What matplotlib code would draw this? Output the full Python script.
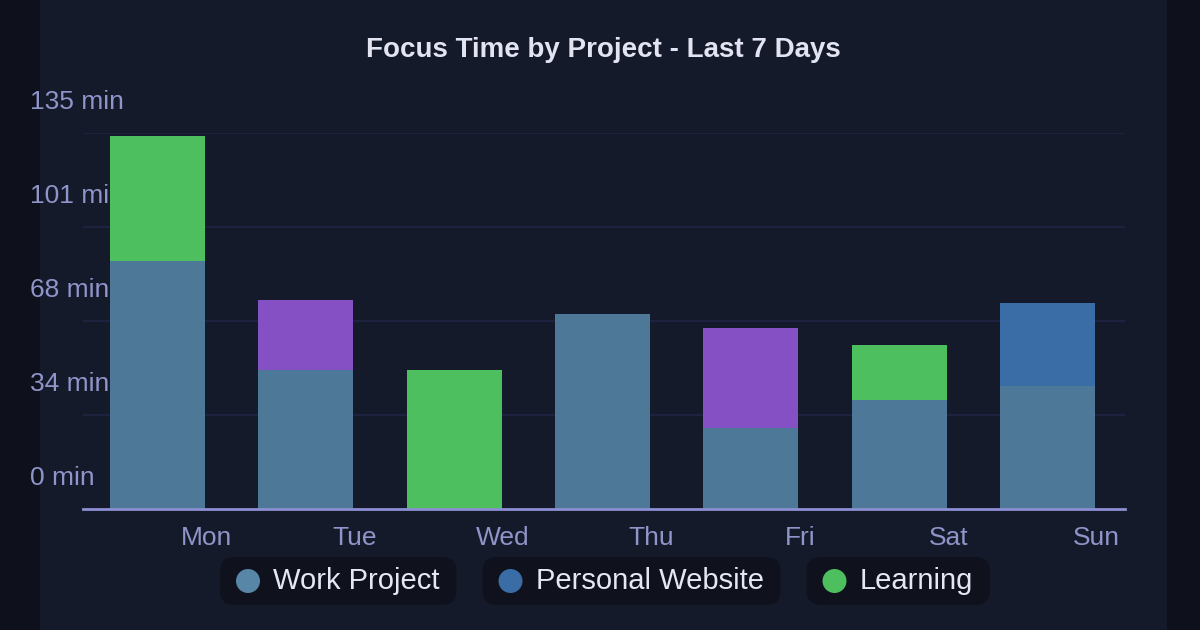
import numpy as np
import matplotlib
matplotlib.use("Agg")
import matplotlib.pyplot as plt
import matplotlib.transforms as mtransforms
from matplotlib.patches import FancyBboxPatch, Rectangle, Ellipse

plt.rcParams['font.family'] = ['Liberation Sans', 'DejaVu Sans']

# ---- data ----
days = ['Mon', 'Tue', 'Wed', 'Thu', 'Fri', 'Sat', 'Sun']
work_project = [89, 50, 0, 70, 29, 39, 44]
other_project = [0, 25, 0, 0, 36, 0, 0]
personal_website = [0, 0, 0, 0, 0, 0, 30]
learning = [45, 0, 50, 0, 0, 20, 0]
y_max = 135
y_tick_labels = ['0 min', '34 min', '68 min', '101 min', '135 min']
title = 'Focus Time by Project - Last 7 Days'
legend_names = ['Work Project', 'Personal Website', 'Learning']

# ---- style ----
OUTER = '#0e111b'
PANEL = '#151a2b'
C_WORK = '#4e7897'
C_OTHER = '#8550c4'
C_PERSONAL = '#3a6da6'
C_LEARN = '#4dbf5e'
LEG_WORK = '#5886a6'
TICK = '#8f94c9'
GRID = '#1f2442'
BASE = '#8c8fd4'

W, H = 1200, 630
fig = plt.figure(figsize=(12, 6.3), dpi=100, facecolor=OUTER)
fig.patches.append(Rectangle((40 / W, 0), 1127 / W, 1, transform=fig.transFigure,
                             facecolor=PANEL, edgecolor='none', zorder=-10))

ax = fig.add_axes([83 / W, 121 / H, 1042 / W, 376 / H])
ax.set_facecolor('none')
x = np.arange(len(days))
bw = 0.64
series = [(work_project, C_WORK), (other_project, C_OTHER),
          (personal_website, C_PERSONAL), (learning, C_LEARN)]
bottom = np.zeros(len(days))
for vals, col in series:
    v = np.array(vals, dtype=float)
    ax.bar(x, v, bw, bottom=bottom, color=col, edgecolor='none', zorder=3)
    bottom += v

ax.set_xlim(-0.5, 6.52)
ax.set_ylim(0, y_max)

# grid
yt = np.linspace(0, y_max, len(y_tick_labels))
for yv in yt[1:]:
    ax.axhline(yv, color=GRID, lw=1.2, zorder=1)
ax.set_yticks([])
for s in ['top', 'right', 'left']:
    ax.spines[s].set_visible(False)
ax.spines['bottom'].set_color(BASE)
ax.spines['bottom'].set_linewidth(2)
ax.spines['bottom'].set_zorder(4)

# y labels (drawn above gridlines, behind bars)
tr = mtransforms.blended_transform_factory(fig.transFigure, ax.transData) + \
    mtransforms.ScaledTranslation(0, 31 / 100, fig.dpi_scale_trans)
for yv, lab in zip(yt, y_tick_labels):
    ax.text(30 / W, yv, lab, transform=tr, ha='left', va='center', color=TICK,
            fontsize=19, zorder=2, clip_on=False)

# x labels, offset to bar right edges
ax.set_xticks(x + 0.33)
ax.set_xticklabels(days, color=TICK, fontsize=19)
ax.tick_params(axis='x', length=0, pad=12)

fig.text(603 / W, 1 - 50 / H, title, ha='center', va='center', color='#e3e4f2',
         fontsize=20, fontweight='bold')

# custom legend pills
fig.canvas.draw()
renderer = fig.canvas.get_renderer()
ly = 1 - 581 / H
xs = 220
for name, col in zip(legend_names, [LEG_WORK, C_PERSONAL, C_LEARN]):
    t = fig.text((xs + 53) / W, ly, name, ha='left', va='center', color='#e6e7f5',
                 fontsize=21, zorder=5)
    bb = t.get_window_extent(renderer)
    xe = bb.x1 + 17
    pill = FancyBboxPatch((xs / W, (630 - 605) / H), (xe - xs) / W, 48 / H,
                          boxstyle='round,pad=0,rounding_size=0.012',
                          transform=fig.transFigure, facecolor='#0f121d',
                          edgecolor='none', zorder=1, mutation_aspect=W / H)
    fig.patches.append(pill)
    fig.patches.append(Ellipse(((xs + 28) / W, ly), 24 / W, 24 / H, transform=fig.transFigure,
                               facecolor=col, edgecolor='none', zorder=3))
    xs = xe + 26

fig.savefig('out.png', dpi=100, facecolor=OUTER)
